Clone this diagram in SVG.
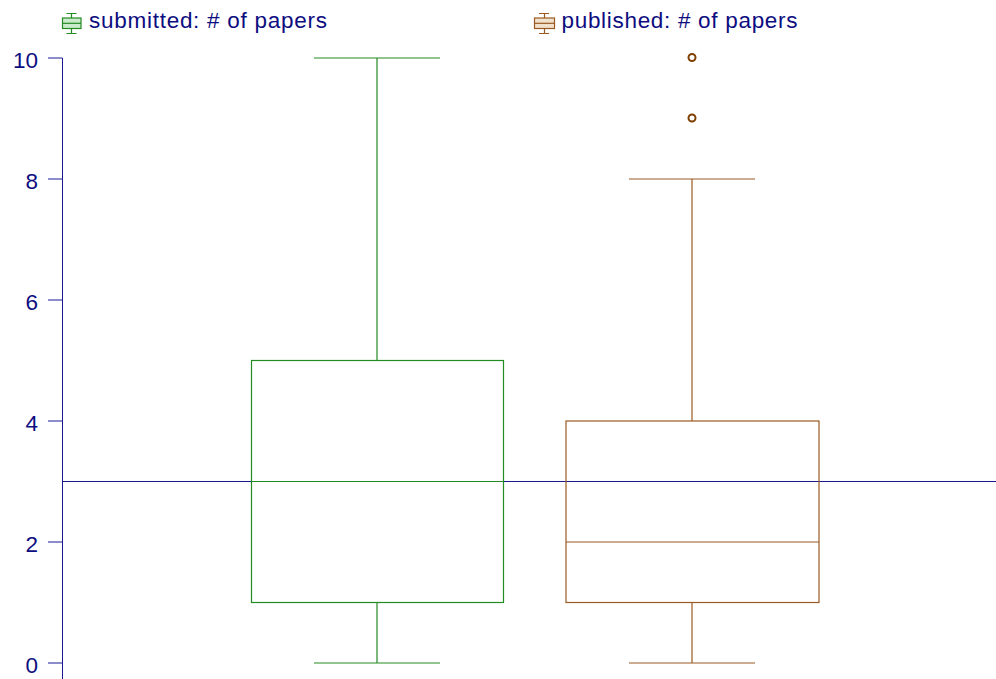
<svg xmlns="http://www.w3.org/2000/svg" width="996" height="679" viewBox="0 0 996 679">
<style>
.lbl{font-family:"Liberation Sans",Arial,sans-serif;font-size:22.5px;fill:#0d0d80}
.tick{font-family:"Liberation Sans",Arial,sans-serif;font-size:22.5px;fill:#0d0d80;text-anchor:end}
.axis{stroke:#1a1a99;stroke-width:1;fill:none}
.g{stroke:#228B22;stroke-width:1.2;fill:none}
.b{stroke:#9a5a22;stroke-width:1.2;fill:none}
</style>
<rect width="996" height="679" fill="#ffffff"/>
<g id="legend">
  <g id="legend-submitted">
    <path class="g" d="M66.5 13.5H76.5M71.5 13.5V18M71.5 28.5V33.5M66.5 33.5H76.5"/>
    <rect x="62.5" y="18" width="18.5" height="10.5" fill="#a8dca8" fill-opacity="0.6" stroke="#228B22" stroke-width="1.2"/>
    <line class="g" x1="62.5" y1="23.3" x2="81" y2="23.3"/>
    <text class="lbl" x="89" y="28" textLength="238" lengthAdjust="spacing">submitted: # of papers</text>
  </g>
  <g id="legend-published">
    <path class="b" d="M539 13.5H549M544.5 13.5V18M544.5 28.5V33.5M539 33.5H549"/>
    <rect x="534.5" y="18" width="20" height="10.5" fill="#e8cfae" fill-opacity="0.6" stroke="#9a5a22" stroke-width="1.2"/>
    <line class="b" x1="534.5" y1="23.3" x2="554.5" y2="23.3"/>
    <text class="lbl" x="561.5" y="28" textLength="236" lengthAdjust="spacing">published: # of papers</text>
  </g>
</g>
<g id="y-axis">
  <path class="axis" d="M62.5 58V679M48 58H62.5M48 179H62.5M48 300H62.5M48 421H62.5M48 542H62.5M48 663H62.5"/>
  <text class="tick" x="38" y="67.5">10</text>
  <text class="tick" x="38" y="189">8</text>
  <text class="tick" x="38" y="310">6</text>
  <text class="tick" x="38" y="431">4</text>
  <text class="tick" x="38" y="552">2</text>
  <text class="tick" x="38" y="673">0</text>
</g>
<g id="connectors">
  <line x1="62" y1="481.5" x2="996" y2="481.5" stroke="#1a1a8c" stroke-width="1.2"/>
</g>
<g id="box-submitted">
  <path class="g" d="M314 58H440M377 58V360.5M377 602.5V663M314 663H440"/>
  <rect class="g" x="251.5" y="360.5" width="252" height="242"/>
  <line class="g" x1="251.5" y1="481.5" x2="503.5" y2="481.5"/>
</g>
<g id="box-published">
  <path class="b" d="M629 179H755M692 179V421M692 602.5V663M629 663H755"/>
  <rect class="b" x="566" y="421" width="253" height="181.5"/>
  <line class="b" x1="566" y1="542" x2="819" y2="542"/>
  <circle cx="692" cy="57.5" r="3.5" fill="none" stroke="#7f3f00" stroke-width="2"/>
  <circle cx="692" cy="118" r="3.5" fill="none" stroke="#7f3f00" stroke-width="2"/>
</g>
</svg>
